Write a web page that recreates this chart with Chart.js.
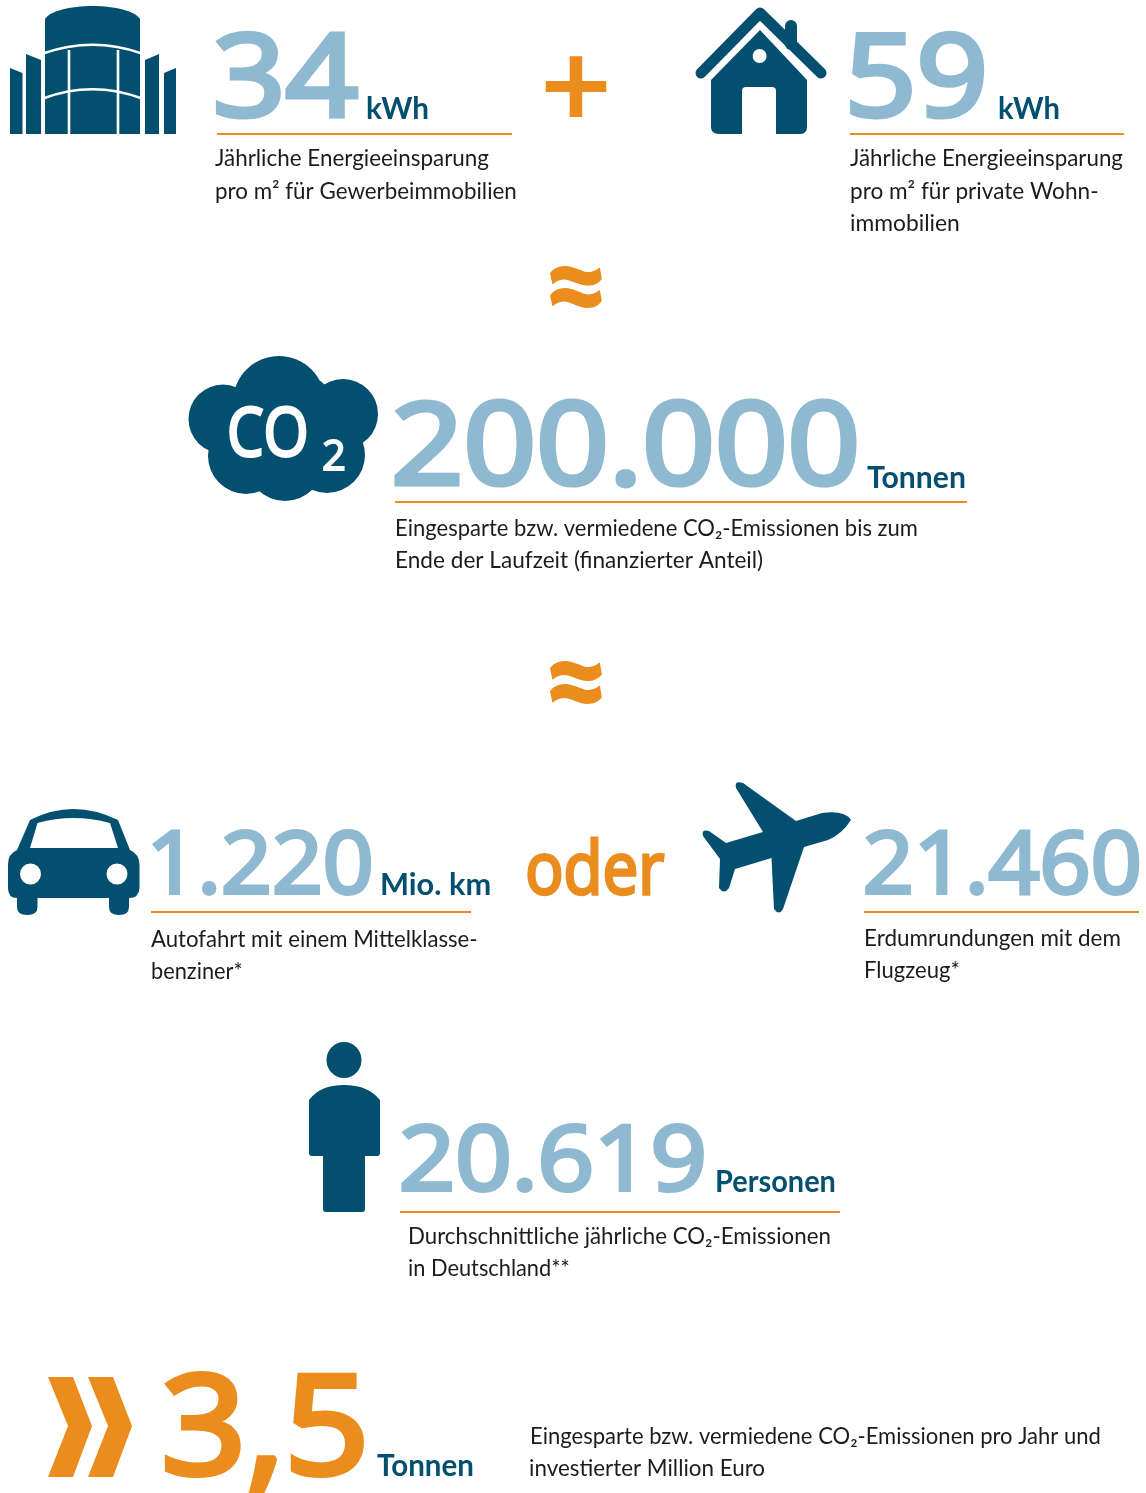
<!DOCTYPE html>
<html lang="de">
<head>
<meta charset="utf-8">
<title>CO2-Einsparung</title>
<script src="https://cdn.jsdelivr.net/npm/chart.js@4"></script>
<style>
  html, body { margin: 0; padding: 0; background: #fff; }
  canvas { display: block; }
</style>
</head>
<body>
<canvas id="myChart" width="1146" height="1493"></canvas>
<script>
// values as printed in the graphic
const categories = ['Gewerbeimmobilien', 'Wohnimmobilien', 'CO2 gesamt', 'Autofahrt', 'Flugzeug', 'Personen', 'pro Million Euro'];
const values = [34, 59, 200000, 1220, 21460, 20619, 3.5];
const units = ['kWh', 'kWh', 'Tonnen', 'Mio. km', '', 'Personen', 'Tonnen'];
const captions = [
    ['Jährliche Energieeinsparung', 'pro m² für Gewerbeimmobilien'],
    ['Jährliche Energieeinsparung', 'pro m² für private Wohn-', 'immobilien'],
    ['Eingesparte bzw. vermiedene CO₂-Emissionen bis zum', 'Ende der Laufzeit (finanzierter Anteil)'],
    ['Autofahrt mit einem Mittelklasse-', 'benziner*'],
    ['Erdumrundungen mit dem', 'Flugzeug*'],
    ['Durchschnittliche jährliche CO₂-Emissionen', 'in Deutschland**'],
    ['Eingesparte bzw. vermiedene CO₂-Emissionen pro Jahr und', 'investierter Million Euro']
];

// page layout, the scales run 1:1 with the page
const W = 1146, H = 1493;
const DARK = '#034f70', LIGHT = '#8fb9d0', ORANGE = '#ea8d1e', TEXT = '#1c1c1c';
const layout = [
    { x0: 216, x1: 358, base: 119, size: 121, ux0: 367, ux1: 428, ubase: 119, rule: [217, 512, 134], cap: [[215, 489, 166], [216, 516, 199]] },
    { x0: 850, x1: 985, base: 119, size: 121, ux0: 999, ux1: 1059, ubase: 119, rule: [850, 1124, 134], cap: [[850, 1123, 166], [851, 1098, 199], [851, 959, 231]] },
    { x0: 394, x1: 857, base: 487, size: 121, ux0: 867, ux1: 965, ubase: 488, rule: [395, 967, 502], cap: [[397, 917, 536], [397, 763, 568]] },
    { x0: 152, x1: 372, base: 895, size: 92, ux0: 382, ux1: 490, ubase: 895, rule: [151, 471, 912], cap: [[151, 477, 947], [152, 242, 979]] },
    { x0: 865, x1: 1140, base: 895, size: 92, rule: [864, 1139, 912], cap: [[866, 1120, 946], [866, 959, 978]] },
    { x0: 401, x1: 704, base: 1192, size: 96, ux0: 717, ux1: 835, ubase: 1192, rule: [400, 840, 1212], cap: [[410, 830, 1244], [409, 569, 1276]] },
    { x0: 165, x1: 364, base: 1477, size: 146, color: ORANGE, ux0: 377, ux1: 473, ubase: 1476, cap: [[532, 1100, 1444], [530, 765, 1476]] }
];

function fitLine(ctx, text, x0, x1, base, font, color) {
    ctx.save();
    ctx.font = font;
    ctx.fillStyle = color;
    ctx.textAlign = 'left';
    ctx.textBaseline = 'alphabetic';
    const m = ctx.measureText(text);
    const s = (x1 - x0) / (m.actualBoundingBoxLeft + m.actualBoundingBoxRight);
    ctx.translate(x0 + m.actualBoundingBoxLeft * s, base);
    ctx.scale(s, 1);
    ctx.fillText(text, 0, 0);
    ctx.restore();
}

// regular Open Sans thickened with an outline, sits between its regular and bold cuts
function fitHeavy(ctx, text, x0, x1, base, size, color) {
    const sw = size / 24;
    ctx.save();
    ctx.font = (size - sw * 1.4) + 'px "Open Sans"';
    ctx.fillStyle = color;
    ctx.strokeStyle = color;
    ctx.lineWidth = sw;
    ctx.lineJoin = 'miter';
    ctx.textAlign = 'left';
    ctx.textBaseline = 'alphabetic';
    const m = ctx.measureText(text);
    const s = (x1 - x0 - sw) / (m.actualBoundingBoxLeft + m.actualBoundingBoxRight);
    ctx.translate(x0 + sw / 2 + m.actualBoundingBoxLeft * s, base - sw / 2);
    ctx.scale(s, 1);
    ctx.fillText(text, 0, 0);
    ctx.strokeText(text, 0, 0);
    ctx.restore();
}

// fits a glyph into a box in both directions (+ and ≈ signs)
function fitBox(ctx, text, x0, x1, y0, y1, font, color) {
    ctx.save();
    ctx.font = font;
    ctx.fillStyle = color;
    ctx.strokeStyle = color;
    ctx.lineJoin = 'round';
    ctx.lineWidth = 1.5;
    ctx.textAlign = 'left';
    ctx.textBaseline = 'alphabetic';
    const m = ctx.measureText(text);
    const sx = (x1 - x0) / (m.actualBoundingBoxLeft + m.actualBoundingBoxRight);
    const sy = (y1 - y0) / (m.actualBoundingBoxAscent + m.actualBoundingBoxDescent);
    ctx.translate(x0 + m.actualBoundingBoxLeft * sx, y0 + m.actualBoundingBoxAscent * sy);
    ctx.scale(sx, sy);
    ctx.fillText(text, 0, 0);
    if (text === '≈') ctx.strokeText(text, 0, 0);
    ctx.restore();
}

function poly(ctx, pts) {
    ctx.beginPath();
    pts.forEach((p, i) => i ? ctx.lineTo(p[0], p[1]) : ctx.moveTo(p[0], p[1]));
    ctx.closePath();
    ctx.fill();
}

function drawBuilding(ctx) {
    ctx.fillStyle = DARK;
    poly(ctx, [[10, 68], [22.5, 73], [22.5, 134], [10, 134]]);
    poly(ctx, [[26, 54], [41, 60], [41, 134], [26, 134]]);
    poly(ctx, [[145, 60], [159, 54], [159, 134], [145, 134]]);
    poly(ctx, [[164, 73], [176, 68], [176, 134], [164, 134]]);
    ctx.beginPath();
    ctx.moveTo(45, 19);
    ctx.bezierCurveTo(50, 11, 70, 6, 92.5, 6);
    ctx.bezierCurveTo(115, 6, 135, 11, 140, 19);
    ctx.lineTo(140, 134);
    ctx.lineTo(45, 134);
    ctx.closePath();
    ctx.fill();
    ctx.strokeStyle = '#fff';
    ctx.lineWidth = 2.6;
    ctx.beginPath();
    ctx.moveTo(69, 50);
    ctx.lineTo(69, 135);
    ctx.moveTo(118, 50);
    ctx.lineTo(118, 135);
    ctx.moveTo(43, 53.5);
    ctx.quadraticCurveTo(92.5, 36, 142, 53.5);
    ctx.moveTo(43, 98.5);
    ctx.quadraticCurveTo(92.5, 80, 142, 98.5);
    ctx.stroke();
}

function drawHouse(ctx) {
    ctx.fillStyle = DARK;
    ctx.strokeStyle = DARK;
    ctx.lineCap = 'round';
    ctx.lineJoin = 'round';
    ctx.lineWidth = 11;
    ctx.beginPath();
    ctx.moveTo(701, 73);
    ctx.lineTo(760, 13);
    ctx.lineTo(821, 73);
    ctx.stroke();
    ctx.beginPath();
    ctx.roundRect(785, 20, 12, 30, 6);
    ctx.fill();
    ctx.beginPath();
    ctx.moveTo(760, 30);
    ctx.lineTo(807, 80);
    ctx.lineTo(807, 127);
    ctx.quadraticCurveTo(807, 134, 800, 134);
    ctx.lineTo(719, 134);
    ctx.quadraticCurveTo(711, 134, 711, 127);
    ctx.lineTo(711, 80);
    ctx.closePath();
    ctx.fill();
    ctx.fillStyle = '#fff';
    ctx.beginPath();
    ctx.arc(759.6, 56, 7, 0, Math.PI * 2);
    ctx.fill();
    ctx.beginPath();
    ctx.roundRect(742, 87, 34, 50, [4, 4, 0, 0]);
    ctx.fill();
}

function drawCloud(ctx) {
    const bumps = [[279, 402, 46], [223, 419, 34.5], [343, 414, 35], [246, 456, 38], [285, 462, 39], [327, 455, 38], [283, 428, 60]];
    ctx.fillStyle = DARK;
    ctx.beginPath();
    bumps.forEach(b => {
        ctx.moveTo(b[0] + b[2], b[1]);
        ctx.arc(b[0], b[1], b[2], 0, Math.PI * 2);
    });
    ctx.fill();
    fitHeavy(ctx, 'CO', 229, 307, 457, 72, '#fff');
    fitHeavy(ctx, '2', 323, 345, 471, 44, '#fff');
}

function drawCar(ctx) {
    ctx.fillStyle = DARK;
    ctx.beginPath();
    ctx.moveTo(30, 820);
    ctx.quadraticCurveTo(73, 798, 118, 820);
    ctx.lineTo(130, 850);
    ctx.quadraticCurveTo(139, 854, 139.5, 864);
    ctx.lineTo(139.5, 888);
    ctx.quadraticCurveTo(139, 898, 129, 898);
    ctx.lineTo(129, 907);
    ctx.quadraticCurveTo(129, 915, 119, 915);
    ctx.quadraticCurveTo(109, 915, 109, 907);
    ctx.lineTo(109, 898);
    ctx.lineTo(37.5, 898);
    ctx.lineTo(37.5, 907);
    ctx.quadraticCurveTo(37.5, 915, 27, 915);
    ctx.quadraticCurveTo(17, 915, 17, 907);
    ctx.lineTo(17, 898);
    ctx.quadraticCurveTo(8, 898, 8, 888);
    ctx.lineTo(8, 864);
    ctx.quadraticCurveTo(8, 854, 17, 850);
    ctx.closePath();
    ctx.fill();
    ctx.fillStyle = '#fff';
    ctx.beginPath();
    ctx.moveTo(30, 848);
    ctx.lineTo(118, 848);
    ctx.lineTo(110, 823);
    ctx.quadraticCurveTo(73, 813, 37.5, 823);
    ctx.closePath();
    ctx.fill();
    ctx.beginPath();
    ctx.arc(30.5, 874, 10.5, 0, Math.PI * 2);
    ctx.moveTo(127.5, 874);
    ctx.arc(117, 874, 10.5, 0, Math.PI * 2);
    ctx.fill();
}

function drawPlane(ctx) {
    ctx.fillStyle = DARK;
    ctx.beginPath();
    ctx.moveTo(851, 820);
    ctx.quadraticCurveTo(845, 810, 822, 813);
    ctx.lineTo(796, 821);
    ctx.lineTo(743, 783);
    ctx.quadraticCurveTo(734, 780, 736, 788);
    ctx.lineTo(763, 832);
    ctx.lineTo(726, 843);
    ctx.lineTo(709, 831);
    ctx.quadraticCurveTo(701, 829, 703, 836);
    ctx.lineTo(720, 859);
    ctx.lineTo(719, 888);
    ctx.quadraticCurveTo(724, 895, 729, 888);
    ctx.lineTo(735, 869);
    ctx.lineTo(771.5, 858);
    ctx.lineTo(774, 909);
    ctx.quadraticCurveTo(779, 916, 783, 909);
    ctx.lineTo(804, 847);
    ctx.lineTo(828, 840);
    ctx.quadraticCurveTo(842, 834, 851, 820);
    ctx.closePath();
    ctx.fill();
}

function drawPerson(ctx) {
    ctx.fillStyle = DARK;
    ctx.beginPath();
    ctx.ellipse(344, 1060, 17.5, 18, 0, 0, Math.PI * 2);
    ctx.fill();
    ctx.beginPath();
    ctx.moveTo(309, 1100);
    ctx.quadraticCurveTo(320, 1085, 344, 1085);
    ctx.quadraticCurveTo(368, 1085, 380, 1100);
    ctx.lineTo(380, 1153);
    ctx.quadraticCurveTo(380, 1156, 377, 1156);
    ctx.lineTo(365, 1156);
    ctx.lineTo(365, 1209);
    ctx.quadraticCurveTo(365, 1212, 362, 1212);
    ctx.lineTo(326, 1212);
    ctx.quadraticCurveTo(323, 1212, 323, 1209);
    ctx.lineTo(323, 1156);
    ctx.lineTo(312, 1156);
    ctx.quadraticCurveTo(309, 1156, 309, 1153);
    ctx.closePath();
    ctx.fill();
}

function drawChevrons(ctx) {
    ctx.fillStyle = ORANGE;
    poly(ctx, [[48, 1377], [73, 1377], [92, 1426], [73, 1477], [48, 1477], [68, 1426]]);
    poly(ctx, [[88, 1377], [113, 1377], [132, 1426], [113, 1477], [88, 1477], [108, 1426]]);
}

const infographic = {
    id: 'infographic',
    afterDatasetsDraw(chart) {
        const ctx = chart.ctx;
        ctx.save();
        drawBuilding(ctx);
        drawHouse(ctx);
        drawCloud(ctx);
        drawCar(ctx);
        drawPlane(ctx);
        drawPerson(ctx);
        drawChevrons(ctx);
        ctx.restore();

        fitBox(ctx, '+', 545, 607, 55, 117, 'bold 100px "Lato"', ORANGE);
        fitBox(ctx, '≈', 550, 602, 266, 306, 'bold 100px "Lato"', ORANGE);
        fitBox(ctx, '≈', 550, 602, 662, 703, 'bold 100px "Lato"', ORANGE);
        fitHeavy(ctx, 'oder', 527, 665, 896, 78, ORANGE);

        // numbers sit on the points of the first dataset
        const points = chart.getDatasetMeta(0).data;
        values.forEach((v, i) => {
            const l = layout[i];
            const p = points[i];
            fitHeavy(ctx, v.toLocaleString('de-DE'), p.x, l.x1, p.y, l.size, l.color || LIGHT);
            if (units[i]) {
                fitLine(ctx, units[i], l.ux0, l.ux1, l.ubase, 'bold 30px "Lato"', DARK);
            }
            captions[i].forEach((line, j) => {
                fitLine(ctx, line, l.cap[j][0], l.cap[j][1], l.cap[j][2], '23px "Lato"', TEXT);
            });
        });
    }
};

const datasets = [{
    label: 'Kennzahlen',
    data: values.map((v, i) => ({ x: layout[i].x0, y: layout[i].base })),
    pointRadius: 0
}];
// orange rules under the numbers
layout.filter(l => l.rule).forEach(l => {
    datasets.push({
        label: 'Linie',
        data: [{ x: l.rule[0], y: l.rule[2] }, { x: l.rule[1], y: l.rule[2] }],
        showLine: true,
        borderColor: ORANGE,
        borderWidth: 2,
        pointRadius: 0
    });
});

const myChart = new Chart(document.getElementById('myChart').getContext('2d'), {
    type: 'scatter',
    data: { labels: categories, datasets: datasets },
    options: {
        responsive: false,
        animation: false,
        events: [],
        layout: { padding: 0 },
        plugins: { legend: { display: false }, tooltip: { enabled: false } },
        scales: {
            x: { type: 'linear', display: false, min: 0, max: W },
            y: { type: 'linear', display: false, min: 0, max: H, reverse: true }
        }
    },
    plugins: [infographic]
});
</script>
</body>
</html>
